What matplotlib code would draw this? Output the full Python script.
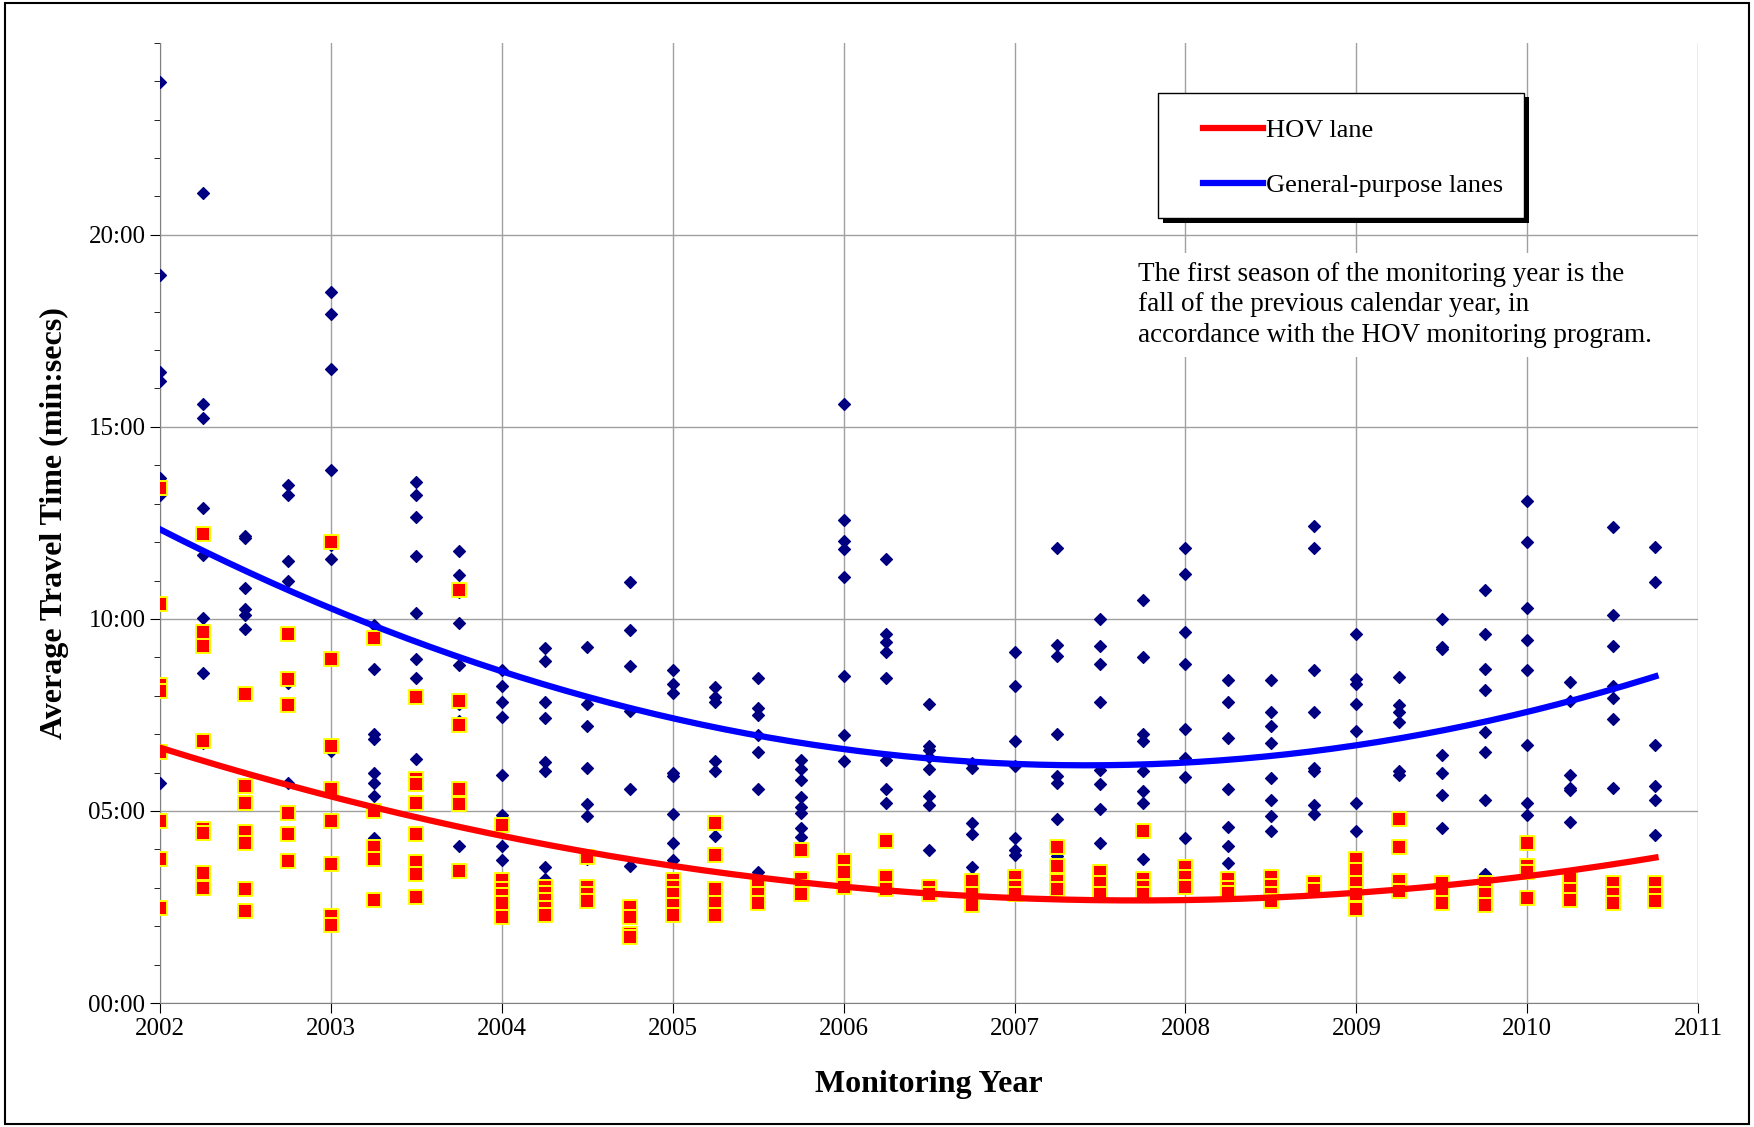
import matplotlib
matplotlib.use('Agg')
import numpy as np
import matplotlib.pyplot as plt
from matplotlib.ticker import MultipleLocator, FixedLocator, FuncFormatter
from matplotlib.patches import Rectangle

plt.rcParams['font.family'] = ['Liberation Serif', 'DejaVu Serif']

# quarterly monitoring periods; travel times in minutes
gp = {
    2002.00: [23.97, 18.95, 16.44, 16.2, 13.67, 13.24, 5.74],
    2002.25: [21.08, 15.6, 15.22, 12.9, 11.66, 10.03, 8.6, 6.76],
    2002.50: [12.15, 12.1, 10.8, 10.25, 10.1, 9.75, 8.05],
    2002.75: [13.5, 13.24, 11.5, 11.0, 8.45, 8.34, 5.74],
    2003.00: [18.5, 17.93, 16.5, 13.88, 11.92, 11.57, 8.95, 6.56],
    2003.25: [9.85, 8.69, 7.0, 6.88, 5.98, 5.74, 5.4, 4.29, 4.1],
    2003.50: [13.56, 13.24, 12.65, 11.63, 10.15, 8.95, 8.45, 6.36],
    2003.75: [11.78, 11.14, 10.7, 9.9, 8.8, 7.78, 7.35, 4.1],
    2004.00: [8.66, 8.25, 7.84, 7.46, 5.95, 4.9, 4.1, 3.73],
    2004.25: [9.24, 8.9, 7.84, 7.43, 6.27, 6.03, 3.53, 3.24],
    2004.50: [9.27, 7.78, 7.2, 6.12, 5.19, 4.87, 3.76],
    2004.75: [10.96, 9.71, 8.78, 7.6, 5.57, 3.56, 2.3],
    2005.00: [8.66, 8.3, 8.08, 5.98, 5.92, 4.93, 4.17, 3.73],
    2005.25: [8.22, 7.96, 7.84, 6.3, 6.03, 4.34, 2.97],
    2005.50: [8.45, 7.67, 7.49, 6.97, 6.53, 5.57, 3.41],
    2005.75: [6.33, 6.09, 5.8, 5.36, 5.1, 4.96, 4.55, 4.31],
    2006.00: [15.6, 12.57, 12.04, 11.81, 11.1, 8.51, 6.97, 6.3],
    2006.25: [11.55, 9.6, 9.39, 9.13, 8.45, 6.33, 5.57, 5.22],
    2006.50: [7.78, 6.7, 6.59, 6.41, 6.09, 5.39, 5.16, 3.99],
    2006.75: [6.24, 6.12, 4.69, 4.4, 3.53, 3.27],
    2007.00: [9.13, 8.25, 6.82, 6.18, 4.29, 3.99, 3.85],
    2007.25: [11.84, 9.33, 9.04, 7.0, 5.92, 5.74, 4.78, 3.82],
    2007.50: [10.0, 9.3, 8.83, 7.84, 6.06, 5.69, 5.04, 4.17],
    2007.75: [10.5, 9.0, 7.0, 6.82, 6.03, 5.51, 5.22, 3.76],
    2008.00: [11.84, 11.17, 9.65, 8.83, 7.14, 6.39, 5.89, 4.29],
    2008.25: [8.4, 7.84, 6.91, 5.57, 4.58, 4.08, 3.64],
    2008.50: [8.4, 7.58, 7.2, 6.76, 5.86, 5.28, 4.87, 4.49],
    2008.75: [12.42, 11.84, 8.66, 7.58, 6.12, 6.03, 5.16, 4.93],
    2009.00: [9.62, 8.43, 8.3, 7.78, 7.08, 5.22, 4.49],
    2009.25: [8.48, 7.75, 7.58, 7.32, 6.03, 5.95, 4.08],
    2009.50: [10.0, 9.27, 9.21, 6.47, 5.98, 5.42, 4.55, 3.12],
    2009.75: [10.76, 9.6, 8.69, 8.16, 7.06, 6.53, 5.28, 3.35],
    2010.00: [13.06, 12.01, 10.29, 9.45, 8.66, 6.73, 5.22, 4.9],
    2010.25: [8.37, 7.87, 5.95, 5.6, 5.54, 4.72, 3.15],
    2010.50: [12.39, 10.09, 9.3, 8.25, 7.93, 7.4, 5.6, 3.18],
    2010.75: [11.87, 10.96, 6.73, 5.66, 5.28, 4.37, 3.12],
}
hov = {
    2002.00: [13.41, 10.38, 8.28, 8.13, 6.53, 4.75, 3.76, 2.48],
    2002.25: [12.22, 9.65, 9.3, 6.82, 4.52, 4.43, 3.38, 3.0],
    2002.50: [8.05, 5.66, 5.22, 4.46, 4.17, 2.97, 2.39],
    2002.75: [9.6, 8.43, 7.75, 4.96, 4.4, 3.7],
    2003.00: [12.01, 8.95, 6.68, 5.57, 4.75, 3.62, 2.27, 2.04],
    2003.25: [9.5, 5.01, 4.05, 3.76, 2.68],
    2003.50: [7.96, 5.83, 5.69, 5.22, 4.4, 3.67, 3.35, 2.77],
    2003.75: [10.76, 7.87, 7.23, 5.57, 5.19, 3.44],
    2004.00: [4.64, 3.21, 2.97, 2.8, 2.6, 2.25],
    2004.25: [3.03, 2.86, 2.68, 2.48, 2.3],
    2004.50: [3.79, 3.03, 2.83, 2.65],
    2004.75: [2.5, 2.25, 1.8, 1.72],
    2005.00: [3.21, 3.03, 2.83, 2.54, 2.3],
    2005.25: [4.69, 3.85, 2.97, 2.6, 2.3],
    2005.50: [3.12, 2.83, 2.6],
    2005.75: [3.99, 3.24, 3.03, 2.83],
    2006.00: [3.7, 3.41, 3.03],
    2006.25: [4.23, 3.29, 2.97],
    2006.50: [3.03, 2.83],
    2006.75: [3.18, 2.83, 2.54],
    2007.00: [3.27, 3.03, 2.83],
    2007.25: [4.05, 3.56, 3.18, 2.97],
    2007.50: [3.41, 3.12, 2.83],
    2007.75: [4.49, 3.24, 3.03, 2.83],
    2008.00: [3.53, 3.27, 3.03],
    2008.25: [3.24, 3.0, 2.86],
    2008.50: [3.27, 3.06, 2.83, 2.65],
    2008.75: [3.12, 2.94],
    2009.00: [3.76, 3.47, 3.12, 2.83, 2.45],
    2009.25: [4.78, 4.05, 3.18, 2.92],
    2009.50: [3.12, 2.83, 2.6],
    2009.75: [3.12, 2.83, 2.54],
    2010.00: [4.17, 3.56, 3.41, 2.74],
    2010.25: [3.24, 2.94, 2.68],
    2010.50: [3.12, 2.83, 2.6],
    2010.75: [3.12, 2.83, 2.65],
}


def flatten(d):
    xs, ys = [], []
    for k, v in d.items():
        xs += [k] * len(v)
        ys += v
    return np.array(xs), np.array(ys)


gx, gy = flatten(gp)
hx, hy = flatten(hov)

fig = plt.figure(figsize=(17.54, 11.27), dpi=100)
ax = fig.add_axes([0.0912, 0.110, 0.877, 0.852])

ax.scatter(gx, gy, marker='D', s=36, color='#000080', zorder=3)
ax.scatter(hx, hy, marker='s', s=95, color='#FF0000', edgecolors='#FFFF00',
           linewidths=1.4, zorder=3)

# second-order trend lines, as Excel draws them
xx = np.linspace(2002, 2010.75, 200)
pg = np.polyfit(gx - 2002, gy, 2)
ph = np.polyfit(hx - 2002, hy, 2)
lg, = ax.plot(xx, np.polyval(pg, xx - 2002), color='#0000FF', lw=4.5, zorder=4,
              label='General-purpose lanes')
lh, = ax.plot(xx, np.polyval(ph, xx - 2002), color='#FF0000', lw=4.5, zorder=4,
              label='HOV lane')

ax.set_xlim(2002, 2011)
ax.set_ylim(0, 25)
ax.set_xticks(range(2002, 2012))
ax.yaxis.set_major_locator(FixedLocator([0, 5, 10, 15, 20]))
ax.yaxis.set_minor_locator(MultipleLocator(1))
ax.yaxis.set_major_formatter(FuncFormatter(lambda v, p: '%02d:00' % int(v)))
ax.tick_params(labelsize=18, direction='out', length=7)
ax.tick_params(axis='y', which='minor', direction='out', length=4)
ax.grid(True, color='#a0a0a0', lw=1)
ax.set_axisbelow(True)
for s in ['top', 'right']:
    ax.spines[s].set_visible(False)
ax.spines['left'].set_color('#808080')
ax.spines['bottom'].set_color('#808080')

ax.set_xlabel('Monitoring Year', fontsize=23, fontweight='bold', labelpad=22)
ax.set_ylabel('Average Travel Time (min:secs)', fontsize=23, fontweight='bold', labelpad=14)

# legend box with shadow
lx0, ly0 = 1035 / 1568, 1 - 195 / 1008
lw_, lh_ = 327 / 1568, 112 / 1008
ax.add_patch(Rectangle((lx0 + 0.003, ly0 - 0.004), lw_, lh_, transform=fig.transFigure,
                       facecolor='black', zorder=5, clip_on=False))
ax.add_patch(Rectangle((lx0, ly0), lw_, lh_, transform=fig.transFigure,
                       facecolor='white', edgecolor='black', lw=1, zorder=6, clip_on=False))
leg = ax.legend(handles=[lh, lg], loc='upper left',
                bbox_to_anchor=(lx0 + 0.012, ly0 + lh_ - 0.002), bbox_transform=fig.transFigure,
                frameon=False, fontsize=19, handlelength=2.3, handletextpad=0.1, labelspacing=1.2)
leg.set_zorder(7)

ax.text(2007.72, 19.3, 'The first season of the monitoring year is the\n'
        'fall of the previous calendar year, in\n'
        'accordance with the HOV monitoring program.',
        fontsize=19.5, va='top', ha='left', linespacing=1.3, zorder=5,
        bbox=dict(facecolor='white', edgecolor='none', pad=6))

fig.patches.append(Rectangle((0.003, 0.003), 0.994, 0.994, transform=fig.transFigure,
                             facecolor='none', edgecolor='black', lw=1.5))

fig.savefig('out.png', dpi=100)
